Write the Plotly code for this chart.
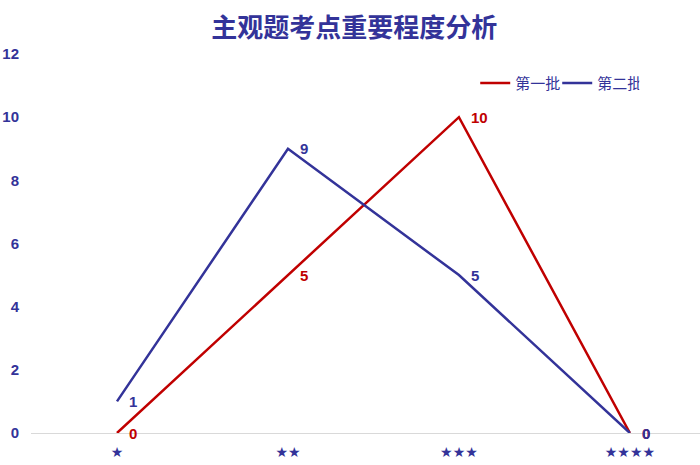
import plotly.graph_objects as go

categories = ["★", "★★", "★★★", "★★★★"]
batch1 = [0, 5, 10, 0]
batch2 = [1, 9, 5, 0]
y_ticks = [0, 2, 4, 6, 8, 10, 12]

RED = "#c00000"
BLUE = "#333399"
NUM_FONT = "Liberation Sans, Arial"

fig = go.Figure()
fig.add_trace(go.Scatter(
    x=categories, y=batch1, name="第一批", mode="lines",
    line=dict(color=RED, width=2.5),
    cliponaxis=False,
))
fig.add_trace(go.Scatter(
    x=categories, y=batch2, name="第二批", mode="lines",
    line=dict(color=BLUE, width=2.5),
    cliponaxis=False,
))

annotations = []
for series, color in ((batch1, RED), (batch2, BLUE)):
    for cat, val in zip(categories, series):
        annotations.append(dict(
            x=cat, y=val, xref="x", yref="y", text=f"<b>{val}</b>",
            showarrow=False, xanchor="left", yanchor="middle", xshift=10,
            font=dict(color=color, size=15, family=NUM_FONT),
        ))

fig.update_layout(
    width=700, height=465,
    paper_bgcolor="white", plot_bgcolor="white",
    margin=dict(l=31, r=0, t=54, b=32, autoexpand=False),
    title=dict(text="<b>主观题考点重要程度分析</b>", x=0.506, xanchor="center", y=0.94, yanchor="middle",
               font=dict(family="Noto Sans CJK SC", size=26, color=BLUE)),
    legend=dict(orientation="h", x=0.664, y=0.923, xanchor="left", yanchor="middle",
                font=dict(family="Noto Sans CJK SC", size=15, color=BLUE),
                itemwidth=30, entrywidth=37, tracegroupgap=0, bgcolor="rgba(0,0,0,0)"),
    xaxis=dict(type="category", range=[-0.503, 3.41], showgrid=False, zeroline=False,
               showline=True, linecolor="#d9d9d9", linewidth=1, ticks="",
               ticklabelstandoff=6, automargin=False,
               tickfont=dict(color=BLUE, size=14, family="DejaVu Sans")),
    yaxis=dict(range=[0, 12], tickvals=y_ticks, showgrid=False, zeroline=False,
               showline=False, ticks="", ticklabelstandoff=11, automargin=False,
               tickfont=dict(color=BLUE, size=15, family=NUM_FONT, weight="bold")),
    annotations=annotations,
    showlegend=True,
)

fig.write_html("out.html", config={"displayModeBar": False},
               post_script="document.body.style.margin='0';")
